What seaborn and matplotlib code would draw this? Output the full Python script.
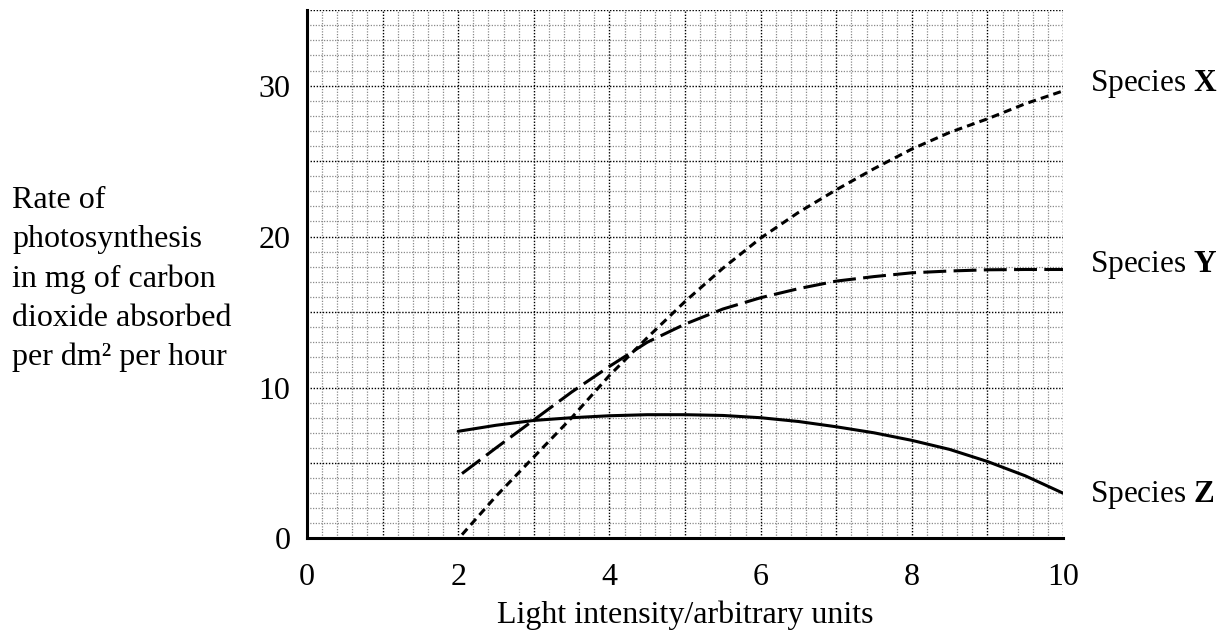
import numpy as np
import pandas as pd
import matplotlib
matplotlib.use("Agg")
import matplotlib.pyplot as plt
import seaborn as sns

# ---- data ----
x_xy = [2.05, 2.5, 3, 3.5, 4, 4.5, 5, 5.5, 6, 6.5, 7, 7.5, 8, 8.5, 9, 9.5, 10]
species_x = [0.25, 2.8, 5.4, 8.0, 10.8, 13.3, 15.7, 17.9, 19.9, 21.6, 23.1, 24.5, 25.8, 26.9, 27.8, 28.8, 29.65]
species_y = [4.3, 6.0, 7.85, 9.7, 11.4, 13.0, 14.2, 15.2, 15.95, 16.55, 17.05, 17.35, 17.6, 17.72, 17.8, 17.82, 17.82]
x_z = [2.0, 2.5, 3, 3.5, 4, 4.5, 5, 5.5, 6, 6.5, 7, 7.5, 8, 8.5, 9, 9.5, 10]
species_z = [7.1, 7.5, 7.82, 8.0, 8.13, 8.2, 8.2, 8.15, 8.0, 7.75, 7.4, 7.0, 6.5, 5.9, 5.1, 4.15, 3.0]

x_ticks = [0, 2, 4, 6, 8, 10]
y_ticks = [0, 10, 20, 30]
series_names = ["X", "Y", "Z"]
label_y = [30.1, 18.1, 2.9]

sns.set_style("white")
plt.rcParams['font.family'] = ['Liberation Serif', 'DejaVu Serif']
plt.rcParams['mathtext.fontset'] = 'custom'
plt.rcParams['mathtext.rm'] = 'Liberation Serif'
plt.rcParams['mathtext.bf'] = 'Liberation Serif:bold'
plt.rcParams['mathtext.it'] = 'Liberation Serif:italic'
for k in ['text.color', 'axes.labelcolor', 'xtick.color', 'ytick.color', 'axes.edgecolor']:
    plt.rcParams[k] = 'black'

fs = 23
fig = plt.figure(figsize=(12.29, 6.35), dpi=100)
ax = fig.add_axes([0.2498, 0.152, 0.6152, 0.832])

# graph paper grid
xmin, xmax, ymin, ymax = 0, 10, 0, 35
vx = np.round(np.arange(0, 10.001, 0.2), 2)
hy = np.arange(0, 36, 1)
vminor = [v for v in vx if abs(v - round(v)) > 1e-6]
vmajor = [v for v in vx if abs(v - round(v)) <= 1e-6]
hminor = [h for h in hy if h % 5 != 0]
hmajor = [h for h in hy if h % 5 == 0]
dot = (0, (1, 1.2))
ax.vlines(vminor, ymin, ymax, colors="#8a8a8a", linewidth=0.9, linestyles=[dot], zorder=0)
ax.hlines(hminor, xmin, xmax, colors="#8a8a8a", linewidth=0.9, linestyles=[dot], zorder=0)
ax.vlines(vmajor, ymin, ymax, colors="#000000", linewidth=1.0, linestyles=[dot], zorder=1)
ax.hlines(hmajor, xmin, xmax, colors="#000000", linewidth=1.0, linestyles=[dot], zorder=1)

lw = 2.2
sns.lineplot(x=x_xy, y=species_x, ax=ax, color="black", linewidth=lw, zorder=3)
ax.lines[-1].set_dashes([2.6, 1.7])
sns.lineplot(x=x_xy, y=species_y, ax=ax, color="black", linewidth=lw, zorder=3)
ax.lines[-1].set_dashes([7.5, 2.4])
sns.lineplot(x=x_z, y=species_z, ax=ax, color="black", linewidth=lw, zorder=3)

ax.set_xlim(xmin, xmax)
ax.set_ylim(ymin, ymax)
ax.set_xticks(x_ticks)
ax.set_yticks(y_ticks)
ax.set_xticklabels([str(t) for t in x_ticks], fontsize=fs)
ax.set_yticklabels([str(t) for t in y_ticks], fontsize=fs)
ax.tick_params(axis="x", direction="out", length=8, width=1.4, pad=10, color="black", labelcolor="black")
ax.tick_params(axis="y", direction="out", length=8, width=1.4, pad=4, color="black", labelcolor="black")

for s in ["top", "right"]:
    ax.spines[s].set_visible(False)
for s in ["left", "bottom"]:
    ax.spines[s].set_linewidth(2.2)
    ax.spines[s].set_color("black")
    ax.spines[s].set_zorder(4)

ax.set_xlabel("Light intensity/arbitrary units", fontsize=fs, labelpad=6, color="black")
ax.set_ylabel("")

for name, yy in zip(series_names, label_y):
    ax.text(10.36, yy, "Species $\\mathbf{%s}$" % name, fontsize=22.5,
            ha="left", va="center", clip_on=False, color="black")

fig.text(0.0098, 0.56,
         "Rate of\nphotosynthesis\nin mg of carbon\ndioxide absorbed\nper dm\u00b2 per hour",
         fontsize=fs, ha="left", va="center", linespacing=1.45, color="black")

fig.savefig("out.png", dpi=100, facecolor="white")
